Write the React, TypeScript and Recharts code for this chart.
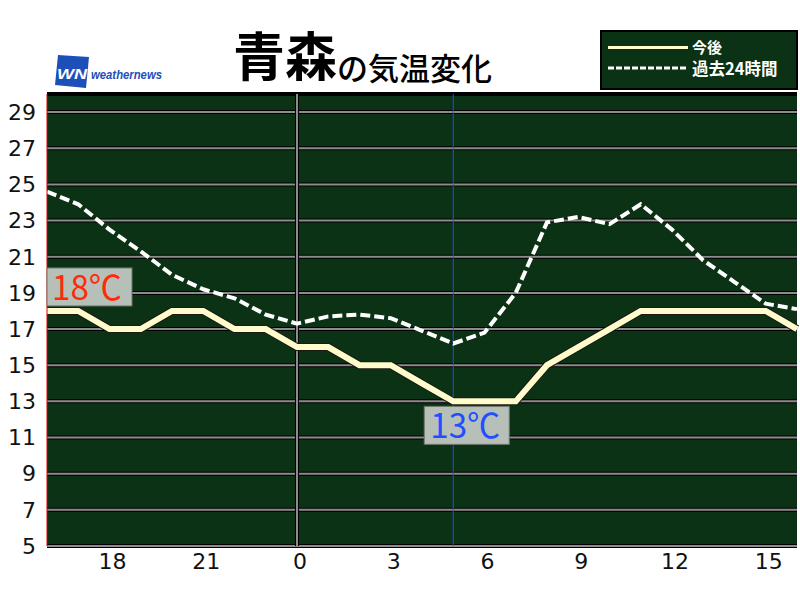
import React from 'react';
import { LineChart, Line, XAxis, YAxis, CartesianGrid, ReferenceLine, ReferenceDot } from 'recharts';

const hours = [16, 17, 18, 19, 20, 21, 22, 23, 0, 1, 2, 3, 4, 5, 6, 7, 8, 9, 10, 11, 12, 13, 14, 15, 16];
const forecast = [18, 18, 17, 17, 18, 18, 17, 17, 16, 16, 15, 15, 14, 13, 13, 13, 15, 16, 17, 18, 18, 18, 18, 18, 17];
const past24h = [24.6, 23.9, 22.5, 21.3, 20.0, 19.2, 18.7, 17.8, 17.3, 17.7, 17.8, 17.6, 16.9, 16.2, 16.8, 19.0, 22.9, 23.2, 22.8, 23.9, 22.5, 20.8, 19.6, 18.4, 18.1];
const xTickIdx = [2, 5, 8, 11, 14, 17, 20, 23];
const yTicks = [5, 7, 9, 11, 13, 15, 17, 19, 21, 23, 25, 27, 29];
const seriesNames = ['今後', '過去24時間'];
const maxLabel = { idx: 0, value: 18, text: '18℃' };
const minLabel = { idx: 13, value: 13, text: '13℃' };
const midnightIdx = 8;
const nowIdx = 13;

const data = hours.map((h, i) => ({ i, hour: h, forecast: forecast[i], past: past24h[i] }));

const FONT = '"Noto Sans CJK JP", "Noto Sans", sans-serif';
const TICK_FONT = '"DejaVu Sans", sans-serif';

const LegendBox = () => (
  <svg width={198} height={60} style={{ display: 'block' }}>
    <rect x={1} y={1} width={196} height={58} fill="#0b3214" stroke="#000" strokeWidth={2} />
    <line x1={8} y1={17.5} x2={88} y2={17.5} stroke="#fffbcc" strokeWidth={3} />
    <text x={92} y={23} fill="#fff" fontSize={15} fontWeight={700} fontFamily={FONT}>{seriesNames[0]}</text>
    <line x1={8} y1={38} x2={88} y2={38} stroke="#fff" strokeWidth={3} strokeDasharray="6 2" />
    <text x={92} y={45} fill="#fff" fontSize={16.5} fontWeight={700} fontFamily={FONT}>{seriesNames[1]}</text>
  </svg>
);

const MaxShape = (props: any) => {
  const { cx, cy } = props;
  return (
    <g>
      <rect x={cx} y={cy - 43} width={85} height={38} fill="rgb(183,192,184)" stroke="#6d776d" strokeWidth={1} />
      <text x={cx + 5} y={cy - 11} fill="#ff2a0a" fontSize={34} fontFamily={FONT} textLength={70} lengthAdjust="spacingAndGlyphs">{maxLabel.text}</text>
    </g>
  );
};

const MinShape = (props: any) => {
  const { cx, cy } = props;
  return (
    <g>
      <rect x={cx - 29} y={cy + 5} width={85} height={38} fill="rgb(183,192,184)" stroke="#6d776d" strokeWidth={1} />
      <text x={cx - 23} y={cy + 37} fill="#1f4fff" fontSize={34} fontFamily={FONT} textLength={70} lengthAdjust="spacingAndGlyphs">{minLabel.text}</text>
    </g>
  );
};

export default function App() {
  return (
    <div style={{ position: 'absolute', left: 0, top: 0, width: 800, height: 600, background: '#fff', overflow: 'hidden' }}>
      <LineChart width={800} height={600} data={data} margin={{ top: 94, right: 3, bottom: 0, left: 0 }}>
        <CartesianGrid horizontal vertical={false} fill="#0b3214" stroke="#000" strokeWidth={4} />
        <CartesianGrid horizontal vertical={false} stroke="#8c8c8c" strokeWidth={2} />
        <XAxis
          dataKey="i"
          type="number"
          domain={[0, 24]}
          ticks={xTickIdx}
          tickFormatter={(v: number) => String(hours[v])}
          axisLine={false}
          tickLine={false}
          tickSize={0}
          tickMargin={7}
          height={54}
          tick={{ fill: '#111', fontSize: 22, fontFamily: TICK_FONT, dx: 3 }}
        />
        <YAxis
          domain={[5, 30]}
          ticks={yTicks}
          interval={0}
          width={47}
          axisLine={{ stroke: '#e00000', strokeWidth: 1 }}
          tickLine={false}
          tickSize={0}
          tickMargin={11}
          tick={{ fill: '#111', fontSize: 22, fontFamily: TICK_FONT }}
        />
        <ReferenceLine y={30} stroke="#000" strokeWidth={2} />
        <ReferenceLine x={midnightIdx} stroke="#000" strokeWidth={4} />
        <ReferenceLine x={midnightIdx} stroke="#8c8c8c" strokeWidth={2} />
        <ReferenceLine x={nowIdx} stroke="#2448ff" strokeWidth={1} />
        <Line dataKey="forecast" name={seriesNames[0]} stroke="#1a1a10" strokeWidth={8} dot={false} isAnimationActive={false} legendType="none" />
        <Line dataKey="forecast" name={seriesNames[0]} stroke="#fffbcc" strokeWidth={6} dot={false} isAnimationActive={false} />
        <Line dataKey="past" name={seriesNames[1]} stroke="#ffffff" strokeWidth={4} strokeDasharray="10 4" dot={false} isAnimationActive={false} />
        <ReferenceDot x={maxLabel.idx} y={maxLabel.value} r={0} ifOverflow="visible" shape={MaxShape} />
        <ReferenceDot x={minLabel.idx} y={minLabel.value} r={0} ifOverflow="visible" shape={MinShape} />
      </LineChart>
      <div style={{ position: 'absolute', left: 600, top: 30 }}>
        <LegendBox />
      </div>
      <svg width={800} height={94} style={{ position: 'absolute', left: 0, top: 0, pointerEvents: 'none' }}>
        <text x={233} y={76} fontSize={52} fontWeight={700} fill="#000" fontFamily={FONT}>青森</text>
        <text x={337} y={80} fontSize={31} fontWeight={500} fill="#000" fontFamily={FONT}>の気温変化</text>
        <polygon points="58,55 89,57 86,88 55,85" fill="#1d4fb8" />
        <text x={72} y={79} fontSize={15} fontWeight={700} fontStyle="italic" fill="#fff" textAnchor="middle" fontFamily="Liberation Sans, Arial, sans-serif" textLength={30} lengthAdjust="spacingAndGlyphs">WN</text>
        <text x={91} y={79} fontSize={12.5} fontWeight={700} fontStyle="italic" fill="#1d4fb8" fontFamily="Liberation Sans, Arial, sans-serif" textLength={71} lengthAdjust="spacingAndGlyphs">weathernews</text>
      </svg>
    </div>
  );
}
